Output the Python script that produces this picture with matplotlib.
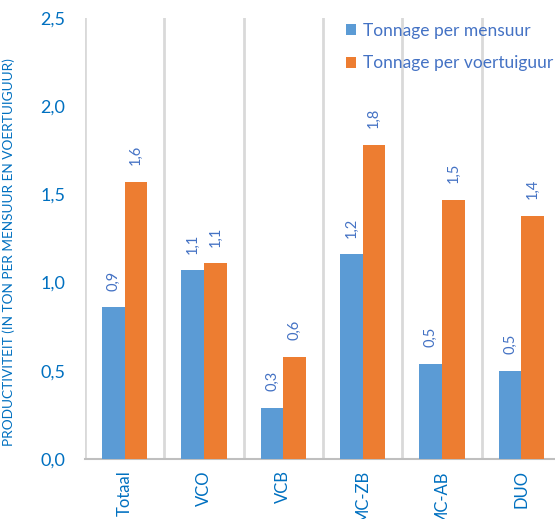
import matplotlib
matplotlib.use("Agg")
import matplotlib.pyplot as plt
import numpy as np

categories = ["Totaal", "VCO", "VCB", "MC-ZB", "MC-AB", "DUO"]
per_mensuur = [0.86, 1.07, 0.29, 1.16, 0.54, 0.50]
per_voertuiguur = [1.57, 1.11, 0.58, 1.78, 1.47, 1.38]
series_names = ["Tonnage per mensuur", "Tonnage per voertuiguur"]

BLUE = "#5B9BD5"
ORANGE = "#ED7D31"
TICK_COLOR = "#0070C0"
LABEL_COLOR = "#4472C4"
GRID = "#D9D9D9"

plt.rcParams["font.family"] = ["Lato", "DejaVu Sans"]

fig = plt.figure(figsize=(5.55, 5.19), dpi=100)
ax = fig.add_axes([85 / 555, 60 / 519, 476 / 555, 441 / 519])

x = np.arange(len(categories))
w = 0.285
b1 = ax.bar(x - w / 2, per_mensuur, w, color=BLUE, label=series_names[0], zorder=3)
b2 = ax.bar(x + w / 2, per_voertuiguur, w, color=ORANGE, label=series_names[1], zorder=3)

for bars, vals in ((b1, per_mensuur), (b2, per_voertuiguur)):
    for rect, v in zip(bars, vals):
        ax.annotate(f"{v:.1f}".replace(".", ","),
                    (rect.get_x() + rect.get_width() / 2, v),
                    xytext=(0, 12), textcoords="offset points",
                    rotation=90, ha="center", va="bottom",
                    color=LABEL_COLOR, fontsize=10.5)

ax.set_xlim(-0.5, len(categories) - 0.5)
ax.set_ylim(0, 2.5)
ticks = np.arange(0, 2.51, 0.5)
ax.set_yticks(ticks)
ax.set_yticklabels([f"{t:.1f}".replace(".", ",") for t in ticks])
ax.set_xticks(x)
ax.set_xticklabels(categories, rotation=90)
ax.tick_params(axis="both", length=0, colors=TICK_COLOR)
ax.tick_params(axis="y", pad=14, labelsize=13)
ax.tick_params(axis="x", pad=8, labelsize=12)

# category separators
for xs in np.arange(-0.5, len(categories), 1.0):
    ax.axvline(xs, color=GRID, lw=2, zorder=1)

for s in ("top", "right", "left"):
    ax.spines[s].set_visible(False)
ax.spines["bottom"].set_color("#BFBFBF")
ax.spines["bottom"].set_linewidth(1.5)

ax.set_ylabel("PRODUCTIVITEIT (IN TON PER MENSUUR EN VOERTUIGUUR)",
              color=TICK_COLOR, fontsize=9.8)
ax.yaxis.set_label_coords(-70 / 476, 0.47)

ax.legend(loc="upper left", bbox_to_anchor=(346 / 555, 1 - 23 / 519), bbox_transform=fig.transFigure,
          frameon=False, fontsize=12.5, handlelength=0.6, handleheight=0.6, borderpad=0,
          borderaxespad=0, handletextpad=0.4, labelspacing=0.95, labelcolor=LABEL_COLOR)

fig.savefig("out.png", dpi=100)
